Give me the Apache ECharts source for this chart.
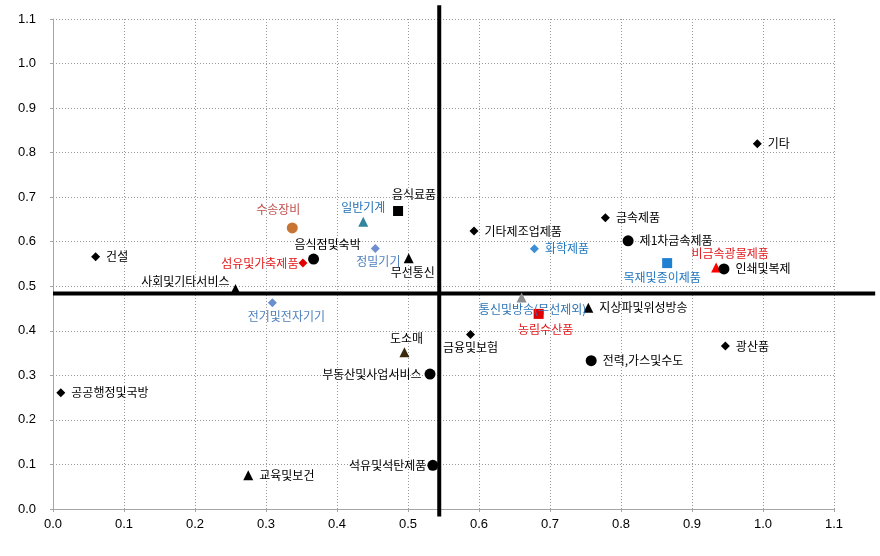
<!DOCTYPE html>
<html>
<head>
<meta charset="utf-8">
<script src="https://cdn.jsdelivr.net/npm/echarts@6/dist/echarts.min.js"></script>
<style>
html,body{margin:0;padding:0;background:#fff;}
#chart{width:880px;height:556px;}
</style>
</head>
<body>
<div id="chart"></div>
<script>
// ---- data ----
const names = ['기타','건설','수송장비','음식점및숙박','섬유및가축제품','사회및기타서비스','전기및전자기기','일반기계','음식료품','정밀기기','무선통신','기타제조업제품','화학제품','금속제품','제1차금속제품','목재및종이제품','비금속광물제품','인쇄및복제','통신및방송(무선제외)','농림수산품','지상파및위성방송','금융및보험','광산품','전력,가스및수도','도소매','부동산및사업서비스','공공행정및국방','석유및석탄제품','교육및보건'];
const xValues = [0.992,0.060,0.337,0.367,0.352,0.257,0.309,0.437,0.486,0.454,0.501,0.593,0.678,0.778,0.810,0.865,0.934,0.945,0.660,0.684,0.754,0.588,0.947,0.758,0.495,0.531,0.011,0.535,0.275];
const yValues = [0.820,0.566,0.631,0.561,0.552,0.494,0.463,0.645,0.669,0.585,0.563,0.624,0.584,0.654,0.602,0.552,0.542,0.539,0.475,0.438,0.452,0.392,0.366,0.333,0.352,0.303,0.261,0.098,0.076];
const xTicks = [0,0.1,0.2,0.3,0.4,0.5,0.6,0.7,0.8,0.9,1.0,1.1];
const yTicks = [0,0.1,0.2,0.3,0.4,0.5,0.6,0.7,0.8,0.9,1.0,1.1];
const quadrantX = 0.544;
const quadrantY = 0.484;
// quadrant line extents
const vLineRange = [-0.017, 1.131];
const hLineRange = [0, 1.158];

// ---- styles (separate from data) ----
const shapes = ['diamond','diamond','circle','circle','diamond','triangle','diamond','triangle','rect','diamond','triangle','diamond','diamond','diamond','circle','rect','triangle','circle','triangle','rect','triangle','diamond','diamond','circle','triangle','circle','diamond','circle','triangle'];
const markColors = ['#000','#000','#c87533','#000','#e00000','#000','#6a8fcf','#31859c','#000','#6f8fd0','#000','#000','#3a8fd8','#000','#000','#1f7fd0','#ff0000','#000','#8c8c8c','#e00000','#000','#000','#000','#000','#3a2a10','#000','#000','#000','#000'];
const textColors = ['#000','#000','#c0504d','#000','#e31a1c','#000','#4f81bd','#1f6fb5','#000','#4f81bd','#000','#000','#1f77c0','#000','#000','#1f77c0','#e31a1c','#000','#2e75b6','#e31a1c','#000','#000','#000','#000','#000','#000','#000','#000','#000'];
const labelPos = ['right','right','top','top','left','left','bottom','top','top','bottom','bottom','right','right','right','right','bottom','top','right','bottom','bottom','right','bottom','right','right','top','left','right','left','right'];
const labelShift = [[0,0],[0,0],[-14,-4],[14,0],[1,0],[0,-8],[14,0],[0,0],[16,-3],[3,0],[4,0],[0,0],[0,0],[0,0],[0,0],[-5,0],[14,0],[0,0],[11,-2],[7,2],[0,0],[0,0],[0,0],[0,0],[2,0],[-2,0],[0,0],[0,0],[0,0]];

const sizeOf = s => s === 'circle' ? 11 : (s === 'diamond' ? 9 : 10);

const points = names.map((n, i) => ({
  name: n,
  value: [xValues[i], yValues[i]],
  symbol: shapes[i],
  symbolSize: sizeOf(shapes[i]),
  itemStyle: { color: markColors[i], opacity: 1 },
  label: {
    show: true,
    position: labelPos[i],
    distance: labelPos[i] === 'left' ? 1 : (labelPos[i] === 'right' ? 6 : 3),
    color: textColors[i],
    formatter: n
  }
}));

const chart = echarts.init(document.getElementById('chart'), null, {renderer: 'canvas'});
const axisFont = {fontFamily: '"Liberation Sans Narrow","Liberation Sans",Arial,sans-serif', fontSize: 13, color: '#000'};

function quadLine(params, api) {
  const p1 = api.coord([api.value(0), api.value(1)]);
  const p2 = api.coord([api.value(2), api.value(3)]);
  return {
    type: 'line',
    shape: {x1: p1[0], y1: p1[1], x2: p2[0], y2: p2[1]},
    style: {stroke: '#000', lineWidth: 4}
  };
}

chart.setOption({
  animation: false,
  backgroundColor: '#fff',
  grid: {left: 53, right: 46, top: 19, bottom: 47, containLabel: false},
  xAxis: {
    type: 'value', min: 0, max: 1.1, interval: 0.1,
    axisLine: {show: true, lineStyle: {color: '#a6a6a6', width: 1}},
    axisTick: {show: true, length: 3, lineStyle: {color: '#a6a6a6'}},
    axisLabel: Object.assign({margin: 9, formatter: v => v.toFixed(1)}, axisFont),
    splitLine: {show: true, lineStyle: {color: '#999', type: [1, 2], width: 1}}
  },
  yAxis: {
    type: 'value', min: 0, max: 1.1, interval: 0.1,
    axisLine: {show: true, lineStyle: {color: '#a6a6a6', width: 1}},
    axisTick: {show: true, length: 3, lineStyle: {color: '#a6a6a6'}},
    axisLabel: Object.assign({margin: 17, formatter: v => v.toFixed(1)}, axisFont),
    splitLine: {show: true, lineStyle: {color: '#999', type: [1, 2], width: 1}}
  },
  series: [
    {
      type: 'custom', silent: true, clip: false, z: 2,
      renderItem: quadLine,
      data: [
        [quadrantX, vLineRange[0], quadrantX, vLineRange[1]],
        [hLineRange[0], quadrantY, hLineRange[1], quadrantY]
      ]
    },
    {
      type: 'scatter', z: 5, clip: false,
      label: {fontFamily: '"Noto Sans CJK KR", sans-serif', fontSize: 12},
      labelLayout: function (p) {
        const s = labelShift[p.dataIndex] || [0, 0];
        return {dx: s[0], dy: s[1], hideOverlap: false};
      },
      data: points
    }
  ]
});
</script>
</body>
</html>
